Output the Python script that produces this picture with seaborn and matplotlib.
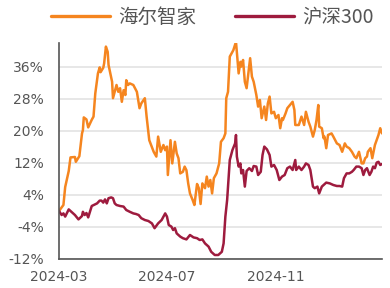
import matplotlib
matplotlib.use("Agg")
import matplotlib.pyplot as plt
import matplotlib.dates as mdates
import numpy as np
import pandas as pd
import seaborn as sns

# ---------------- data (cumulative return, %) ----------------
haier_dates = [
    "2024-03-20", "2024-03-25", "2024-03-27", "2024-03-31", "2024-04-02", "2024-04-07", "2024-04-08",
    "2024-04-12", "2024-04-15", "2024-04-16", "2024-04-17", "2024-04-20", "2024-04-22", "2024-04-26",
    "2024-04-28", "2024-04-30", "2024-05-03", "2024-05-05", "2024-05-06", "2024-05-09", "2024-05-10",
    "2024-05-12", "2024-05-14", "2024-05-15", "2024-05-17", "2024-05-19", "2024-05-20", "2024-05-22",
    "2024-05-24", "2024-05-26", "2024-05-28", "2024-05-30", "2024-06-01", "2024-06-03", "2024-06-04",
    "2024-06-06", "2024-06-08", "2024-06-12", "2024-06-16", "2024-06-19", "2024-06-21", "2024-06-25",
    "2024-06-27", "2024-06-30", "2024-07-05", "2024-07-08", "2024-07-10", "2024-07-13", "2024-07-16",
    "2024-07-18", "2024-07-20", "2024-07-21", "2024-07-24", "2024-07-26", "2024-07-29", "2024-07-31",
    "2024-08-02", "2024-08-04", "2024-08-07", "2024-08-09", "2024-08-11", "2024-08-13", "2024-08-15",
    "2024-08-18", "2024-08-20", "2024-08-23", "2024-08-25", "2024-08-27", "2024-08-29", "2024-09-01",
    "2024-09-03", "2024-09-05", "2024-09-07", "2024-09-09", "2024-09-11", "2024-09-14", "2024-09-17",
    "2024-09-19", "2024-09-22", "2024-09-24", "2024-09-25", "2024-09-27", "2024-09-29", "2024-10-03",
    "2024-10-06", "2024-10-09", "2024-10-11", "2024-10-12", "2024-10-14", "2024-10-16", "2024-10-18",
    "2024-10-20", "2024-10-22", "2024-10-24", "2024-10-26", "2024-10-29", "2024-10-31", "2024-11-02",
    "2024-11-04", "2024-11-07", "2024-11-09", "2024-11-11", "2024-11-13", "2024-11-15", "2024-11-18",
    "2024-11-20", "2024-11-23", "2024-11-25", "2024-11-27", "2024-11-28", "2024-12-01", "2024-12-03",
    "2024-12-06", "2024-12-09", "2024-12-11", "2024-12-12", "2024-12-16", "2024-12-19", "2024-12-22",
    "2024-12-24", "2024-12-27", "2024-12-29", "2025-01-01", "2025-01-03", "2025-01-05", "2025-01-07",
    "2025-01-08", "2025-01-11", "2025-01-13", "2025-01-14", "2025-01-16", "2025-01-18", "2025-01-22",
    "2025-01-24", "2025-01-28", "2025-01-31", "2025-02-03", "2025-02-06", "2025-02-08", "2025-02-11",
    "2025-02-14", "2025-02-17", "2025-02-19", "2025-02-22", "2025-02-25", "2025-02-27", "2025-03-01",
    "2025-03-03", "2025-03-04", "2025-03-07", "2025-03-09", "2025-03-12", "2025-03-14", "2025-03-16",
    "2025-03-18", "2025-03-20",
]
haier_values = [
    0.0, 1.5, 6.0, 10.0, 13.4, 13.5, 12.3,
    13.7, 19.4, 20.2, 23.4, 22.9, 20.9, 22.8,
    23.6, 29.4, 34.4, 35.9, 34.7, 35.8, 36.9,
    41.1, 39.8, 36.5, 34.4, 32.3, 28.2, 29.8,
    31.5, 29.8, 30.7, 27.3, 30.2, 29.0, 32.7,
    31.5, 31.9, 31.5, 29.8, 25.7, 26.9, 28.2,
    23.6, 17.7, 14.8, 13.6, 18.6, 14.8, 16.5,
    15.2, 16.1, 9.0, 17.7, 11.9, 17.3, 14.4,
    13.2, 9.4, 9.8, 11.1, 10.2, 6.9, 4.4,
    2.75, 1.5, 6.75, 5.7, 1.75, 6.9, 5.7,
    8.6, 6.1, 7.75, 4.4, 8.2, 9.4, 11.9,
    17.3, 18.2, 19.4, 28.2, 29.8, 38.6, 40.2,
    42.3, 34.4, 37.3, 36.1, 37.75, 32.3, 30.7,
    34.4, 38.2, 33.6, 32.3, 29.0, 26.1, 27.75,
    23.2, 26.1, 22.75, 26.9, 28.6, 24.4, 24.8,
    23.2, 24.0, 20.7, 23.2, 22.75, 24.4, 25.7,
    26.5, 27.3, 25.25, 21.5, 21.5, 23.6, 21.5,
    24.8, 22.3, 21.1, 18.6, 20.25, 22.75, 26.5,
    21.1, 20.7, 18.2, 18.6, 15.7, 19.0, 19.4,
    18.6, 16.9, 16.5, 14.8, 16.9, 16.1, 15.7,
    14.8, 13.6, 13.2, 14.8, 11.9, 11.9, 13.2,
    13.6, 14.8, 15.7, 13.2, 16.5, 17.75, 19.0,
    20.7, 19.4,
]

hs300_dates = [
    "2024-03-20", "2024-03-23", "2024-03-25", "2024-03-27", "2024-03-31", "2024-04-03", "2024-04-07",
    "2024-04-11", "2024-04-15", "2024-04-16", "2024-04-18", "2024-04-20", "2024-04-22", "2024-04-24",
    "2024-04-26", "2024-04-30", "2024-05-02", "2024-05-05", "2024-05-07", "2024-05-09", "2024-05-11",
    "2024-05-13", "2024-05-15", "2024-05-18", "2024-05-20", "2024-05-22", "2024-05-24", "2024-05-28",
    "2024-06-01", "2024-06-04", "2024-06-08", "2024-06-12", "2024-06-15", "2024-06-18", "2024-06-21",
    "2024-06-25", "2024-06-29", "2024-07-03", "2024-07-06", "2024-07-10", "2024-07-14", "2024-07-18",
    "2024-07-20", "2024-07-22", "2024-07-25", "2024-07-27", "2024-07-29", "2024-07-31", "2024-08-04",
    "2024-08-07", "2024-08-11", "2024-08-15", "2024-08-19", "2024-08-23", "2024-08-26", "2024-08-29",
    "2024-09-01", "2024-09-05", "2024-09-08", "2024-09-12", "2024-09-16", "2024-09-20", "2024-09-22",
    "2024-09-24", "2024-09-26", "2024-09-27", "2024-09-29", "2024-10-02", "2024-10-05", "2024-10-06",
    "2024-10-07", "2024-10-09", "2024-10-11", "2024-10-12", "2024-10-14", "2024-10-16", "2024-10-18",
    "2024-10-21", "2024-10-24", "2024-10-26", "2024-10-29", "2024-10-31", "2024-11-03", "2024-11-05",
    "2024-11-07", "2024-11-10", "2024-11-13", "2024-11-15", "2024-11-18", "2024-11-21", "2024-11-24",
    "2024-11-27", "2024-11-30", "2024-12-03", "2024-12-06", "2024-12-09", "2024-12-12", "2024-12-13",
    "2024-12-16", "2024-12-19", "2024-12-22", "2024-12-24", "2024-12-27", "2024-12-29", "2025-01-01",
    "2025-01-03", "2025-01-06", "2025-01-08", "2025-01-11", "2025-01-13", "2025-01-16", "2025-01-20",
    "2025-01-24", "2025-01-28", "2025-01-31", "2025-02-03", "2025-02-05", "2025-02-08", "2025-02-11",
    "2025-02-14", "2025-02-16", "2025-02-19", "2025-02-22", "2025-02-25", "2025-02-27", "2025-03-01",
    "2025-03-03", "2025-03-06", "2025-03-08", "2025-03-10", "2025-03-12", "2025-03-14", "2025-03-16",
    "2025-03-18", "2025-03-20",
]
hs300_values = [
    0.0, -1.0, -0.6, -1.4, 0.4, -0.2, -1.0,
    -2.1, -1.25, -0.2, -1.0, -0.5, -1.6, -0.2,
    1.25, 1.7, 1.9, 2.6, 2.6, 2.1, 2.9,
    1.9, 3.2, 3.4, 3.2, 1.9, 1.5, 1.25,
    1.1, 0.25, -0.2, -0.6, -0.75, -1.0, -1.8,
    -2.25, -2.5, -3.1, -4.3, -3.1, -2.25, -0.6,
    -1.4, -3.5, -3.9, -4.75, -4.3, -5.6, -6.4,
    -6.8, -7.1, -6.0, -6.6, -6.8, -7.25, -7.1,
    -8.1, -8.9, -10.2, -11.0, -11.0, -10.2, -8.1,
    -1.4, 2.75, 6.1, 12.75, 15.25, 16.9, 19.0,
    13.6, 11.1, 11.9, 9.4, 10.25, 6.1, 10.0,
    10.7, 10.0, 11.25, 11.1, 9.0, 9.8, 14.0,
    16.1, 15.4, 14.0, 11.1, 11.5, 10.25, 7.75,
    8.6, 9.0, 10.7, 11.1, 10.25, 12.75, 10.25,
    11.1, 10.25, 11.1, 11.9, 11.5, 10.25, 6.1,
    5.7, 6.1, 4.4, 6.1, 6.5, 7.1, 6.9,
    6.5, 6.25, 6.25, 6.1, 8.2, 9.4, 9.4,
    9.8, 10.25, 11.1, 11.1, 10.7, 9.0, 10.25,
    10.7, 9.0, 9.8, 11.1, 10.7, 12.1, 12.3,
    11.5, 11.75,
]

series_names = ["海尔智家", "沪深300"]
series_colors = ["#F5851F", "#9E1B3E"]

y_ticks = [-12, -4, 4, 12, 20, 28, 36]
x_tick_dates = ["2024-03-20", "2024-07-20", "2024-11-20", "2025-03-20"]
x_tick_labels = ["2024-03", "2024-07", "2024-11", ""]

# ---------------- build table ----------------
df = pd.concat([
    pd.DataFrame({"date": pd.to_datetime(haier_dates), "value": haier_values, "series": series_names[0]}),
    pd.DataFrame({"date": pd.to_datetime(hs300_dates), "value": hs300_values, "series": series_names[1]}),
], ignore_index=True)

# ---------------- style ----------------
sns.set_style("white")
plt.rcParams["font.family"] = ["DejaVu Sans", "Noto Sans CJK SC"]

fig = plt.figure(figsize=(3.9, 2.88), dpi=100)
ax = fig.add_axes([59 / 390, 1 - 259 / 288, (382 - 59) / 390, (259 - 43) / 288])

sns.lineplot(data=df, x="date", y="value", hue="series", hue_order=series_names,
             palette=series_colors, estimator=None, sort=True, linewidth=1.8,
             legend=False, ax=ax)

ax.set_ylim(-12, 42)
ax.set_xlim(pd.Timestamp(x_tick_dates[0]), pd.Timestamp(x_tick_dates[-1]))
ax.set_yticks(y_ticks)
ax.set_yticklabels([f"{v}%" for v in y_ticks])
ax.set_xticks(pd.to_datetime(x_tick_dates))
ax.set_xticklabels(x_tick_labels)
ax.set_xlabel("")
ax.set_ylabel("")

ax.grid(axis="y", color="#e3e3e3", linewidth=1.2)
ax.grid(axis="x", visible=False)
ax.set_axisbelow(True)

for s in ["top", "right"]:
    ax.spines[s].set_visible(False)
for s in ["left", "bottom"]:
    ax.spines[s].set_color("#555555")
    ax.spines[s].set_linewidth(1.2)

ax.tick_params(axis="y", length=0, pad=11, labelsize=10, labelcolor="#555555")
ax.tick_params(axis="x", length=3, width=1.2, color="#555555", pad=5,
               labelsize=10, labelcolor="#555555")

# legend
handles = [plt.Line2D([], [], color=c, linewidth=2.4) for c in series_colors]
fig.legend(handles, series_names, loc="center", bbox_to_anchor=(0.545, 1 - 17 / 288),
           ncol=2, frameon=False, handlelength=3.0, handletextpad=0.45,
           columnspacing=2.0, prop={"family": ["Noto Sans CJK SC", "DejaVu Sans"], "size": 14},
           labelcolor="#555555")

fig.savefig("out.png", dpi=100)
